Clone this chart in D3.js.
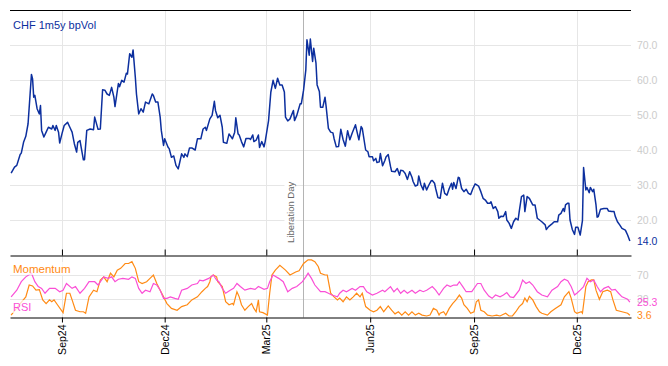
<!DOCTYPE html>
<html>
<head>
<meta charset="utf-8">
<script src="https://cdn.jsdelivr.net/npm/d3@7"></script>
<style>
  body { margin: 0; background: #fff; }
  svg { display: block; }
  text { font-family: "Liberation Sans", Arial, sans-serif; }
</style>
</head>
<body>
<div id="container"></div>
<script>
/* DATA */
const volSeries = [
  ["2024-07-18",33.4],["2024-07-21",35.1],["2024-07-23",35.6],["2024-07-26",38.7],["2024-07-27",39.1],["2024-07-29",42.2],["2024-07-31",43.9],
  ["2024-08-02",47.5],["2024-08-05",61.6],["2024-08-06",60.3],["2024-08-07",55.1],["2024-08-08",55.6],["2024-08-10",51.8],["2024-08-12",50.3],["2024-08-13",52.7],["2024-08-14",45.6],["2024-08-16",43.7],["2024-08-18",45.1],["2024-08-20",46.5],["2024-08-23",46.0],["2024-08-24",47.0],["2024-08-26",45.6],["2024-08-27",47.0],["2024-08-29",45.1],["2024-08-30",42.0],
  ["2024-09-01",44.6],["2024-09-03",47.0],["2024-09-06",47.9],["2024-09-08",46.5],["2024-09-10",45.1],["2024-09-12",41.8],["2024-09-14",39.4],["2024-09-15",42.2],["2024-09-17",42.7],["2024-09-18",40.8],["2024-09-20",37.2],["2024-09-21",37.2],["2024-09-23",45.6],["2024-09-26",46.0],["2024-09-29",45.8],["2024-09-30",49.4],
  ["2024-10-03",45.9],["2024-10-05",46.0],["2024-10-07",57.2],["2024-10-09",57.1],["2024-10-11",56.0],["2024-10-13",55.6],["2024-10-15",57.9],["2024-10-17",55.1],["2024-10-18",52.4],["2024-10-21",59.0],["2024-10-22",58.1],["2024-10-24",59.9],["2024-10-26",59.4],["2024-10-28",61.9],["2024-10-29",61.7],["2024-10-31",67.5],
  ["2024-11-02",66.5],["2024-11-03",68.6],["2024-11-05",60.8],["2024-11-06",56.0],["2024-11-08",50.3],["2024-11-10",51.8],["2024-11-12",50.8],["2024-11-14",53.7],["2024-11-17",53.2],["2024-11-20",56.0],["2024-11-21",55.6],["2024-11-23",53.7],["2024-11-25",53.7],["2024-11-27",49.4],["2024-11-28",45.6],["2024-11-30",41.3],
  ["2024-12-01",43.2],["2024-12-04",40.8],["2024-12-05",40.4],["2024-12-07",37.9],["2024-12-09",38.3],["2024-12-11",35.6],["2024-12-13",34.6],["2024-12-14",36.0],["2024-12-16",38.9],["2024-12-18",37.9],["2024-12-19",38.9],["2024-12-21",38.1],["2024-12-23",40.6],["2024-12-25",40.6],["2024-12-28",40.0],["2024-12-30",43.2],
  ["2025-01-02",43.2],["2025-01-04",46.0],["2025-01-06",46.5],["2025-01-07",45.6],["2025-01-10",48.9],["2025-01-12",49.9],["2025-01-14",53.9],["2025-01-15",51.3],["2025-01-17",49.2],["2025-01-19",49.9],["2025-01-21",46.5],["2025-01-22",42.2],["2025-01-25",41.9],["2025-01-27",44.6],["2025-01-30",43.2],
  ["2025-02-01",45.1],["2025-02-02",49.2],["2025-02-04",44.6],["2025-02-05",44.3],["2025-02-07",42.4],["2025-02-09",40.9],["2025-02-11",43.3],["2025-02-14",43.3],["2025-02-15",43.0],["2025-02-17",44.3],["2025-02-18",42.4],["2025-02-20",42.8],["2025-02-22",44.3],["2025-02-23",40.7],["2025-02-25",42.4],["2025-02-27",40.9],["2025-02-28",42.4],
  ["2025-03-03",48.4],["2025-03-05",56.5],["2025-03-07",59.9],["2025-03-09",57.6],["2025-03-11",60.5],["2025-03-13",58.6],["2025-03-15",58.6],["2025-03-17",56.6],["2025-03-18",49.4],["2025-03-20",48.3],["2025-03-22",48.9],["2025-03-25",51.3],["2025-03-26",48.4],["2025-03-28",49.9],["2025-03-31",53.2],
  ["2025-04-01",53.2],["2025-04-03",57.1],["2025-04-05",62.9],["2025-04-06",71.5],["2025-04-08",67.1],["2025-04-09",71.7],["2025-04-11",65.3],["2025-04-12",69.1],["2025-04-14",64.8],["2025-04-15",58.6],["2025-04-17",56.7],["2025-04-18",52.2],["2025-04-20",52.2],["2025-04-22",55.1],["2025-04-23",52.4],["2025-04-25",46.2],["2025-04-27",45.1],["2025-04-29",44.9],["2025-04-30",43.3],
  ["2025-05-02",40.9],["2025-05-04",41.0],["2025-05-06",45.9],["2025-05-08",43.0],["2025-05-10",41.1],["2025-05-12",45.5],["2025-05-14",42.9],["2025-05-16",44.8],["2025-05-19",47.2],["2025-05-20",45.7],["2025-05-22",42.9],["2025-05-24",46.7],["2025-05-25",46.2],["2025-05-28",40.0],["2025-05-30",39.5],["2025-05-31",38.1],
  ["2025-06-03",38.1],["2025-06-04",36.9],["2025-06-06",37.6],["2025-06-07",36.4],["2025-06-09",36.6],["2025-06-10",39.0],["2025-06-12",35.5],["2025-06-14",37.0],["2025-06-15",38.0],["2025-06-17",38.7],["2025-06-19",35.3],["2025-06-20",33.9],["2025-06-23",33.8],["2025-06-25",34.7],["2025-06-27",32.8],["2025-06-28",34.2],["2025-06-30",34.1],
  ["2025-07-02",33.3],["2025-07-04",31.6],["2025-07-06",33.8],["2025-07-08",32.2],["2025-07-09",31.0],["2025-07-11",29.7],["2025-07-13",30.0],["2025-07-14",32.6],["2025-07-16",30.0],["2025-07-18",28.6],["2025-07-19",30.5],["2025-07-21",28.6],["2025-07-23",30.0],["2025-07-25",31.2],["2025-07-26",31.3],["2025-07-28",30.5],["2025-07-29",29.0],["2025-07-31",26.4],
  ["2025-08-02",26.2],["2025-08-04",30.5],["2025-08-06",27.6],["2025-08-08",27.1],["2025-08-10",29.0],["2025-08-12",30.5],["2025-08-13",28.8],["2025-08-14",30.7],["2025-08-16",29.0],["2025-08-18",32.2],["2025-08-19",32.0],["2025-08-21",29.0],["2025-08-23",28.1],["2025-08-25",28.8],["2025-08-27",27.6],["2025-08-29",27.3],["2025-08-31",29.0],
  ["2025-09-02",30.3],["2025-09-05",29.7],["2025-09-07",28.1],["2025-09-09",26.2],["2025-09-11",25.7],["2025-09-13",24.8],["2025-09-15",24.8],["2025-09-16",25.2],["2025-09-18",23.3],["2025-09-20",23.8],["2025-09-22",22.4],["2025-09-23",20.5],["2025-09-25",21.1],["2025-09-27",21.0],["2025-09-29",22.4],["2025-09-30",20.0],
  ["2025-10-02",19.1],["2025-10-04",17.6],["2025-10-06",19.5],["2025-10-08",20.5],["2025-10-10",20.0],["2025-10-11",22.4],["2025-10-13",26.7],["2025-10-15",27.1],["2025-10-16",22.4],["2025-10-18",26.7],["2025-10-20",26.2],["2025-10-23",24.3],["2025-10-25",24.3],["2025-10-27",20.5],["2025-10-29",20.0],["2025-10-31",19.5],
  ["2025-11-03",18.6],["2025-11-04",17.3],["2025-11-06",18.1],["2025-11-09",18.9],["2025-11-11",19.5],["2025-11-14",19.5],["2025-11-15",21.4],["2025-11-17",21.9],["2025-11-19",23.3],["2025-11-20",22.4],["2025-11-21",24.3],["2025-11-23",24.8],["2025-11-24",24.8],["2025-11-25",20.0],["2025-11-27",17.3],["2025-11-29",15.9],["2025-11-30",17.9],
  ["2025-12-02",17.9],["2025-12-04",15.7],["2025-12-06",19.8],["2025-12-07",35.0],["2025-12-09",28.6],["2025-12-10",29.3],["2025-12-12",27.8],["2025-12-13",29.3],["2025-12-15",28.1],["2025-12-16",28.8],["2025-12-18",24.3],["2025-12-19",20.8],["2025-12-20",21.0],["2025-12-22",23.1],["2025-12-25",23.3],["2025-12-28",23.3],["2025-12-29",22.6],
  ["2026-01-01",22.4],["2026-01-03",22.4],["2026-01-04",21.1],["2026-01-06",19.5],["2026-01-08",18.6],["2026-01-10",17.6],["2026-01-13",17.1],["2026-01-15",15.7],["2026-01-17",14.0]
];

const momSeries = [
  ["2024-07-18",4],["2024-07-26",23],["2024-07-31",34],["2024-08-03",53.5],["2024-08-06",52],["2024-08-09",45],["2024-08-12",46],["2024-08-15",29],["2024-08-18",23],["2024-08-21",29],["2024-08-23",26],["2024-08-25",29],["2024-08-28",21],
  ["2024-09-02",8],["2024-09-05",40],["2024-09-08",40],["2024-09-10",29],["2024-09-13",12],["2024-09-17",9.5],["2024-09-20",9.5],["2024-09-22",7],["2024-09-25",34],["2024-09-29",45],
  ["2024-10-02",42.5],["2024-10-05",61.7],["2024-10-08",67],["2024-10-11",59],["2024-10-14",73],["2024-10-17",67],["2024-10-20",78],["2024-10-23",81],["2024-10-27",89],["2024-10-30",89],
  ["2024-11-02",92],["2024-11-05",81],["2024-11-08",59],["2024-11-11",56],["2024-11-15",59],["2024-11-18",64.5],["2024-11-21",70],["2024-11-24",56],["2024-11-27",45],["2024-11-30",34],
  ["2024-12-03",23],["2024-12-07",15],["2024-12-12",12],["2024-12-16",18],["2024-12-21",21],["2024-12-25",29],["2024-12-30",34],
  ["2025-01-03",42.5],["2025-01-06",48],["2025-01-08",51],["2025-01-10",59],["2025-01-11",67],["2025-01-13",70],["2025-01-16",67],["2025-01-17",59],["2025-01-21",51],["2025-01-24",26],["2025-01-27",21],["2025-01-30",23],["2025-01-31",21],
  ["2025-02-03",42.5],["2025-02-05",34],["2025-02-07",21],["2025-02-10",12],["2025-02-13",18],["2025-02-16",23],["2025-02-18",15],["2025-02-20",9.5],["2025-02-22",29],["2025-02-23",9.5],["2025-02-26",8],
  ["2025-03-02",4],["2025-03-04",40],["2025-03-06",70],["2025-03-09",78],["2025-03-13",86],["2025-03-18",78],["2025-03-22",70],["2025-03-27",75],["2025-03-30",77],
  ["2025-04-03",89],["2025-04-07",95],["2025-04-10",95],["2025-04-13",92],["2025-04-16",84],["2025-04-18",73],["2025-04-22",70],["2025-04-24",70],["2025-04-27",40],["2025-04-30",34],
  ["2025-05-03",29],["2025-05-05",32],["2025-05-08",26],["2025-05-11",34],["2025-05-14",29],["2025-05-17",34],["2025-05-20",40],["2025-05-23",34],["2025-05-25",40],["2025-05-28",18],
  ["2025-06-01",12],["2025-06-04",9.5],["2025-06-07",12],["2025-06-10",18],["2025-06-13",9.5],["2025-06-17",19],["2025-06-20",12],["2025-06-23",6],["2025-06-26",9.5],["2025-06-29",4],
  ["2025-07-02",9.5],["2025-07-05",4],["2025-07-08",9.5],["2025-07-11",4],["2025-07-14",7],["2025-07-17",4],["2025-07-21",2.5],["2025-07-24",4],["2025-07-27",15],["2025-07-30",12],
  ["2025-08-01",4],["2025-08-02",7],["2025-08-05",9.5],["2025-08-07",4],["2025-08-10",15],["2025-08-13",23],["2025-08-16",29],["2025-08-19",37],["2025-08-21",32],["2025-08-23",21],["2025-08-26",15],["2025-08-29",7],
  ["2025-09-01",9.5],["2025-09-03",26],["2025-09-05",29],["2025-09-07",12],["2025-09-10",9.5],["2025-09-13",4],["2025-09-17",2.5],["2025-09-21",4],["2025-09-24",2.5],["2025-09-29",7],
  ["2025-10-02",2.5],["2025-10-05",2.5],["2025-10-08",9.5],["2025-10-11",18],["2025-10-14",23],["2025-10-16",32],["2025-10-18",26],["2025-10-20",35],["2025-10-23",29],["2025-10-26",18],["2025-10-29",9.5],["2025-10-31",7],
  ["2025-11-05",4],["2025-11-08",9.5],["2025-11-12",15],["2025-11-17",21],["2025-11-20",34],["2025-11-24",42.5],["2025-11-26",32],["2025-11-29",9.5],
  ["2025-12-01",7],["2025-12-05",9.5],["2025-12-06",7],["2025-12-09",51],["2025-12-11",59],["2025-12-14",62],["2025-12-16",62],["2025-12-18",45],["2025-12-21",30],["2025-12-24",42.5],["2025-12-28",45],["2025-12-31",42.5],
  ["2026-01-02",29],["2026-01-05",12],["2026-01-10",9.5],["2026-01-15",7],["2026-01-17",3.6]
];

const rsiSeries = [
  ["2024-07-18",34],["2024-07-23",45],["2024-07-27",59],["2024-07-31",67],["2024-08-05",73],["2024-08-08",59],["2024-08-11",51],["2024-08-14",48],["2024-08-17",40],["2024-08-21",48],["2024-08-26",48],["2024-08-30",42.5],
  ["2024-09-02",45],["2024-09-05",56],["2024-09-10",48],["2024-09-13",51],["2024-09-17",40],["2024-09-21",48],["2024-09-25",59],["2024-09-30",59],
  ["2024-10-03",53.5],["2024-10-08",67],["2024-10-12",64.5],["2024-10-15",67],["2024-10-18",59],["2024-10-21",63],["2024-10-25",64.5],["2024-10-30",63],
  ["2024-11-02",67],["2024-11-05",64.5],["2024-11-08",48],["2024-11-11",40],["2024-11-14",45],["2024-11-18",42.5],["2024-11-21",56],["2024-11-24",53.5],["2024-11-27",45],["2024-11-30",31.6],
  ["2024-12-03",31.6],["2024-12-06",34],["2024-12-10",31.6],["2024-12-13",30],["2024-12-16",45],["2024-12-21",48],["2024-12-25",53.5],["2024-12-30",56],
  ["2025-01-01",61.7],["2025-01-04",60.4],["2025-01-09",64.5],["2025-01-13",70],["2025-01-16",61.7],["2025-01-18",59],["2025-01-21",48],["2025-01-24",40],["2025-01-28",45],["2025-01-31",48],
  ["2025-02-03",56],["2025-02-06",51],["2025-02-10",45],["2025-02-15",48],["2025-02-19",46.4],["2025-02-22",51],["2025-02-27",46.4],
  ["2025-03-02",48],["2025-03-04",59],["2025-03-07",70],["2025-03-12",64.5],["2025-03-16",59],["2025-03-20",42.5],["2025-03-24",48],["2025-03-28",51],
  ["2025-04-02",59],["2025-04-05",67],["2025-04-07",73],["2025-04-10",64.5],["2025-04-13",53.5],["2025-04-18",42.5],["2025-04-22",42.5],["2025-04-25",40],["2025-04-28",37],
  ["2025-05-03",34],["2025-05-05",40],["2025-05-08",45],["2025-05-11",42.5],["2025-05-16",48],["2025-05-19",45],["2025-05-23",51],["2025-05-26",51],["2025-05-29",42.5],
  ["2025-06-03",37],["2025-06-07",40],["2025-06-12",45],["2025-06-14",42.5],["2025-06-19",51],["2025-06-22",42.5],["2025-06-25",48],["2025-06-28",40],
  ["2025-07-01",45],["2025-07-04",40],["2025-07-08",45],["2025-07-11",40],["2025-07-15",45],["2025-07-18",42.5],["2025-07-21",45],["2025-07-26",51],["2025-07-29",45],
  ["2025-08-01",37],["2025-08-05",48],["2025-08-08",53.5],["2025-08-11",51],["2025-08-14",53.5],["2025-08-17",53.5],["2025-08-19",59],["2025-08-22",51],["2025-08-25",42.5],["2025-08-30",42.5],
  ["2025-09-04",56],["2025-09-07",56],["2025-09-10",45],["2025-09-14",35.4],["2025-09-17",31.6],["2025-09-20",37],["2025-09-24",34],["2025-09-27",37],["2025-09-30",41],
  ["2025-10-03",34],["2025-10-06",33],["2025-10-11",45],["2025-10-14",61.7],["2025-10-17",56],["2025-10-20",59],["2025-10-23",53.5],["2025-10-27",42.5],["2025-10-31",37],
  ["2025-11-05",34],["2025-11-09",45],["2025-11-14",51],["2025-11-17",59],["2025-11-20",63],["2025-11-23",60.6],["2025-11-26",51],["2025-11-29",37],
  ["2025-12-01",40],["2025-12-04",45],["2025-12-07",51],["2025-12-10",64.5],["2025-12-13",59],["2025-12-16",61.7],["2025-12-19",51],["2025-12-22",42.5],["2025-12-25",48],["2025-12-29",51],
  ["2026-01-01",45],["2026-01-04",46.4],["2026-01-07",40],["2026-01-10",34],["2026-01-15",30],["2026-01-17",25.3]
];

const tickDates = ["2024-09-01", "2024-12-01", "2025-03-01", "2025-06-01", "2025-09-01", "2025-12-01"];
const volTicks = [20, 30, 40, 50, 60, 70];
const oscTicks = [30, 70];
const eventDate = "2025-04-02";
const eventLabel = "Liberation Day";
const titleText = "CHF 1m5y bpVol";

/* CONSTANTS */
const width = 668, height = 366;
const left = 10, right = 631;
const mainTop = 10, mainBottom = 255, oscBottom = 317.5;
const blue = "#0c2f9e", orange = "#ff8a14", pink = "#fa4fd6", grid = "#e6e6e6", axisText = "#cccccc";

const parse = d3.timeParse("%Y-%m-%d");
const toPts = arr => arr.map(d => ({ date: parse(d[0]), value: d[1] }));
const vol = toPts(volSeries), mom = toPts(momSeries), rsi = toPts(rsiSeries);
const ticks = tickDates.map(parse);

/* SCALES */
const xScale = d3.scaleTime()
  .domain([parse("2024-07-17"), parse("2026-01-18")])
  .range([left, right]);

const yScale = d3.scaleLinear()
  .domain([10, 80])
  .range([mainBottom, mainTop]);

const oscScale = d3.scaleLinear()
  .domain([0, 103])
  .range([oscBottom, mainBottom]);

/* SVG */
const svg = d3.select("#container")
  .append("svg")
  .attr("width", width)
  .attr("height", height);

// gridlines
svg.append("g").selectAll("line.vg")
  .data(ticks)
  .join("line")
  .attr("x1", d => Math.round(xScale(d)) + 0.5).attr("x2", d => Math.round(xScale(d)) + 0.5)
  .attr("y1", mainTop).attr("y2", oscBottom)
  .attr("stroke", grid);

svg.append("g").selectAll("line")
  .data(volTicks)
  .join("line")
  .attr("x1", left).attr("x2", right)
  .attr("y1", d => Math.round(yScale(d)) + 0.5).attr("y2", d => Math.round(yScale(d)) + 0.5)
  .attr("stroke", grid);

svg.append("g").selectAll("line")
  .data(oscTicks)
  .join("line")
  .attr("x1", left).attr("x2", right)
  .attr("y1", d => Math.round(oscScale(d)) + 0.5).attr("y2", d => Math.round(oscScale(d)) + 0.5)
  .attr("stroke", grid);

// event line + label
const ex = Math.round(xScale(parse(eventDate))) + 1.5;
svg.append("line")
  .attr("x1", ex).attr("x2", ex)
  .attr("y1", mainTop).attr("y2", oscBottom)
  .attr("stroke", "#b4b4b4");

svg.append("rect")
  .attr("x", ex - 19).attr("y", 176)
  .attr("width", 11).attr("height", 69)
  .attr("fill", "#fff");

svg.append("text")
  .attr("transform", `translate(${ex - 10},243) rotate(-90)`)
  .attr("font-size", "9.5px")
  .attr("fill", "#666")
  .text(eventLabel);

// frame lines
svg.append("line")
  .attr("x1", left).attr("x2", right)
  .attr("y1", mainTop + 0.5).attr("y2", mainTop + 0.5)
  .attr("stroke", "#000");

const midAxis = d3.axisTop(xScale).tickValues(ticks).tickFormat("").tickSizeInner(6).tickSizeOuter(0);
svg.append("g")
  .attr("transform", `translate(0,${mainBottom + 0.5})`)
  .call(midAxis)
  .call(g => g.selectAll("line, path").attr("stroke", "#000"));

const xAxis = d3.axisBottom(xScale).tickValues(ticks).tickFormat(d3.timeFormat("%b%y")).tickSizeInner(5).tickSizeOuter(0);
svg.append("g")
  .attr("transform", `translate(0,${oscBottom})`)
  .call(xAxis)
  .call(g => g.selectAll("line, path").attr("stroke", "#000"))
  .call(g => g.selectAll("text")
    .attr("transform", "translate(0,7) rotate(-90)")
    .attr("text-anchor", "end")
    .attr("x", 0).attr("y", 0).attr("dy", "0.35em")
    .attr("font-size", "10.5px")
    .attr("fill", "#000"));

// right axes
const yAxis = d3.axisRight(yScale).tickValues(volTicks).tickFormat(d3.format(".1f")).tickSize(0).tickPadding(0);
svg.append("g")
  .attr("transform", `translate(637,0)`)
  .call(yAxis)
  .call(g => g.select(".domain").remove())
  .call(g => g.selectAll("text").attr("fill", axisText).attr("font-size", "10.5px"));

const oscAxis = d3.axisRight(oscScale).tickValues(oscTicks).tickFormat(d3.format("d")).tickSize(0).tickPadding(0);
svg.append("g")
  .attr("transform", `translate(637,0)`)
  .call(oscAxis)
  .call(g => g.select(".domain").remove())
  .call(g => g.selectAll("text").attr("fill", axisText).attr("font-size", "10.5px"));

// lines
const line = scale => d3.line().x(d => xScale(d.date)).y(d => scale(d.value));

svg.append("path").datum(mom)
  .attr("fill", "none").attr("stroke", orange).attr("stroke-width", 1.2)
  .attr("d", line(oscScale));

svg.append("path").datum(rsi)
  .attr("fill", "none").attr("stroke", pink).attr("stroke-width", 1.2)
  .attr("d", line(oscScale));

svg.append("path").datum(vol)
  .attr("fill", "none").attr("stroke", blue).attr("stroke-width", 1.5)
  .attr("stroke-linejoin", "round")
  .attr("d", line(yScale));

// labels
svg.append("text")
  .attr("x", 13).attr("y", 29)
  .attr("font-size", "11px").attr("fill", blue)
  .text(titleText);

svg.append("rect").attr("x", 11).attr("y", 262).attr("width", 64).attr("height", 13).attr("fill", "#fff").attr("opacity", 0.75);
svg.append("text")
  .attr("x", 13).attr("y", 272.5)
  .attr("font-size", "11.5px").attr("fill", orange)
  .text("Momentum");

svg.append("rect").attr("x", 11).attr("y", 300).attr("width", 20).attr("height", 13).attr("fill", "#fff").attr("opacity", 0.75);
svg.append("text")
  .attr("x", 13).attr("y", 310.5)
  .attr("font-size", "11px").attr("fill", pink)
  .text("RSI");

// last values
const lastVol = vol[vol.length - 1], lastMom = mom[mom.length - 1], lastRsi = rsi[rsi.length - 1];
svg.append("text")
  .attr("x", 637).attr("y", yScale(lastVol.value)).attr("dy", "0.35em")
  .attr("font-size", "10.5px").attr("fill", blue)
  .text(lastVol.value.toFixed(1));

svg.append("text")
  .attr("x", 637).attr("y", oscScale(lastRsi.value)).attr("dy", "0.35em")
  .attr("font-size", "10.5px").attr("fill", pink)
  .text(lastRsi.value.toFixed(1));

svg.append("text")
  .attr("x", 637).attr("y", oscScale(lastMom.value)).attr("dy", "0.35em")
  .attr("font-size", "10.5px").attr("fill", orange)
  .text(lastMom.value.toFixed(1));
</script>
</body>
</html>
